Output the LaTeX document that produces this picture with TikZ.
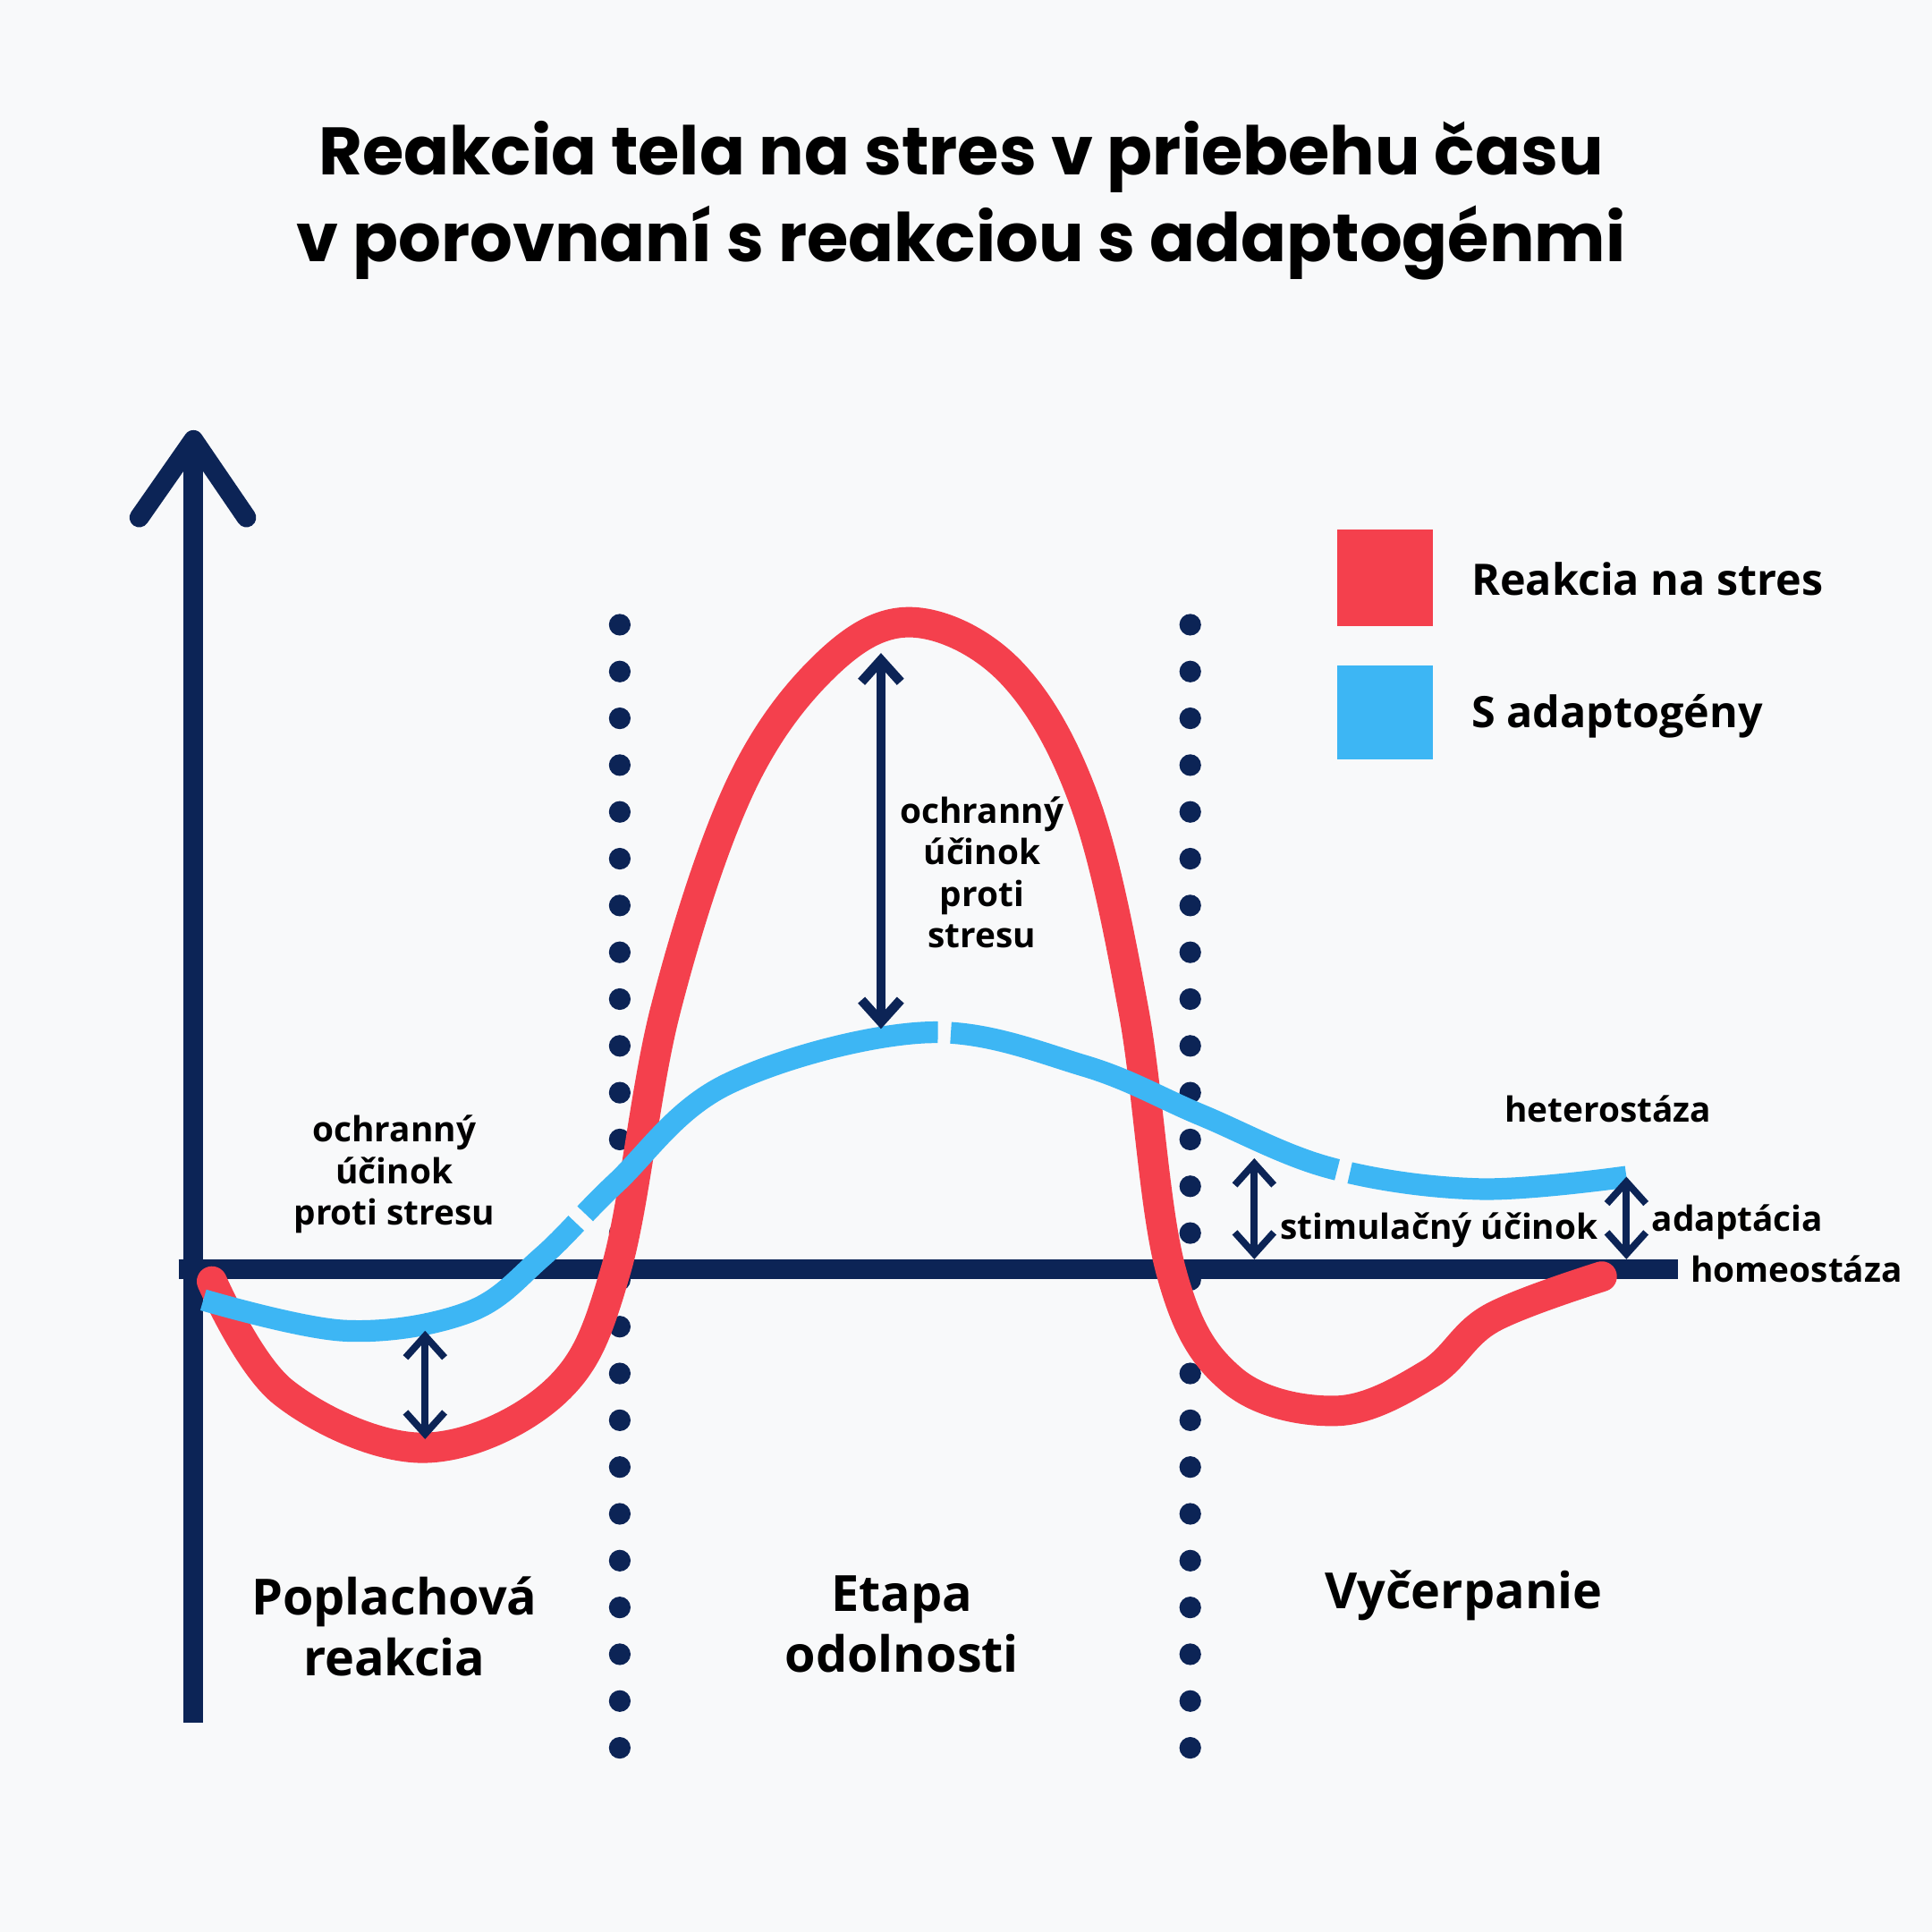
\documentclass[tikz,border=0pt]{standalone}
\usepackage{fontspec}
\setmainfont{Poppins}
\newfontfamily\labelfont{Open Sans}
\usetikzlibrary{arrows.meta}
\definecolor{navy}{HTML}{0C2456}
\definecolor{stresred}{HTML}{F4404D}
\definecolor{adaptblue}{HTML}{3DB6F4}
\definecolor{bgpaper}{HTML}{F8F9FA}
\tikzset{
  axisline/.style={navy, line width=4.5pt},
  phasedot/.style={navy, line width=5pt, line cap=round, dash pattern=on 0pt off 10.8pt},
  measure/.style={navy, line width=1.6pt, {Straight Barb[length=5pt,width=9pt]}-{Straight Barb[length=5pt,width=9pt]}},
  smalltext/.style={font=\labelfont\bfseries\fontsize{8}{9.6}\selectfont, align=center, text=black},
  phasetext/.style={font=\labelfont\bfseries\fontsize{11.5}{14}\selectfont, align=center, text=black},
}
\begin{document}
\begin{tikzpicture}[x=0.01cm, y=-0.01cm]
\fill[bgpaper] (0,0) rectangle (1568,1568);
\useasboundingbox (0,0) rectangle (1568,1568);

% title
\node[font=\bfseries\fontsize{15.5}{20}\selectfont, align=center] (title) at (780,163)
  {Reakcia tela na stres v priebehu času\\v porovnaní s reakciou s adaptogénmi};

% axes
\draw[axisline] (157,1398) -- (157,360);
\draw[axisline, line cap=round, line join=round] (113,420) -- (157,357) -- (200,420);
\draw[axisline] (145,1030) -- (1362,1030);

% phase borders
\draw[phasedot] (503,507) -- (503,1428);
\draw[phasedot] (966,507) -- (966,1428);

% stress reaction
\draw[stresred, line width=7pt, line cap=round] plot[smooth, tension=0.6] coordinates
  {(172,1040) (230,1130) (343,1175) (450,1130) (500,1030) (540,820) (600,640) (670,540) (740,505)
   (820,545) (880,650) (920,820) (950,1030) (1000,1120) (1085,1145) (1160,1115) (1210,1070) (1300,1036)};

% adaptogen reaction
\draw[adaptblue, line width=5pt, dash pattern=on 95pt off 3pt] plot[smooth, tension=0.6] coordinates
  {(165,1055) (280,1080) (380,1065) (440,1020) (500,960) (590,880) (750,838) (880,865) (975,905)
   (1080,948) (1200,965) (1320,955)};

% measures
\coordinate (peakT) at (715,530);  \coordinate (peakB) at (715,835);
\coordinate (alarmT) at (345,1080); \coordinate (alarmB) at (345,1168);
\coordinate (stimT) at (1018,940);  \coordinate (stimB) at (1018,1022);
\coordinate (adaptT) at (1320,955); \coordinate (adaptB) at (1320,1022);
\draw[measure, line width=2.2pt] (peakT) -- (peakB);
\draw[measure] (alarmT) -- (alarmB);
\draw[measure] (stimT) -- (stimB);
\draw[measure] (adaptT) -- (adaptB);

% labels
\node[smalltext] (protmid) at (797,708) {ochranný\\účinok\\proti\\stresu};
\node[smalltext] (protleft) at (320,953) {ochranný\\účinok\\proti stresu};
\node[smalltext] (hetero) at (1305,900) {heterostáza};
\node[smalltext] (stim) at (1168,998) {stimulačný účinok};
\node[smalltext] (adapt) at (1410,992) {adaptácia};
\node[smalltext] (homeo) at (1458,1030) {homeostáza};

\node[phasetext] (alarm) at (320,1320) {Poplachová\\reakcia};
\node[phasetext] (resist) at (732,1318) {Etapa\\odolnosti};
\node[phasetext] (exhaust) at (1188,1295) {Vyčerpanie};

% legend
\fill[stresred] (1085,430) rectangle (1163,508);
\fill[adaptblue] (1085,540) rectangle (1163,616);
\node[phasetext, font=\labelfont\bfseries\fontsize{10}{12}\selectfont, anchor=west] (legred) at (1182,470) {Reakcia na stres};
\node[phasetext, font=\labelfont\bfseries\fontsize{10}{12}\selectfont, anchor=west] (legblue) at (1182,581) {S adaptogény};
\end{tikzpicture}
\end{document}
